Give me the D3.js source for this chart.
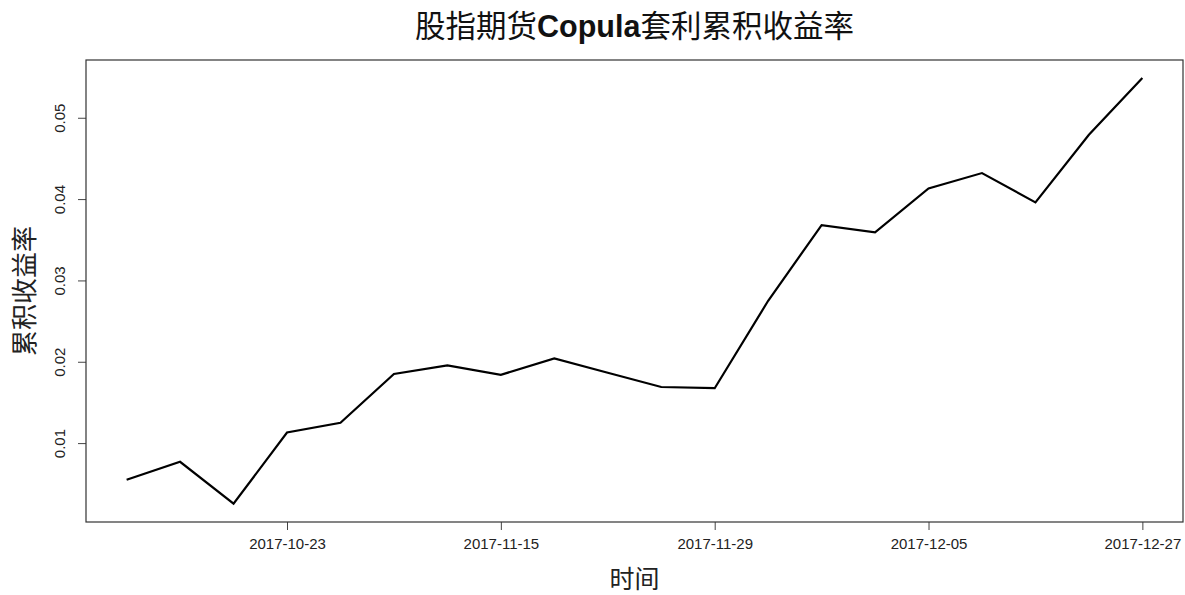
<!DOCTYPE html>
<html>
<head>
<meta charset="utf-8">
<title>股指期货Copula套利累积收益率</title>
<script src="https://d3js.org/d3.v7.min.js"></script>
<style>
body { margin: 0; background: #fff; }
svg { display: block; }
text { font-family: "Liberation Sans", Arial, "Noto Sans CJK SC", sans-serif; }
.cjk { font-family: "Noto Sans CJK SC", "Liberation Sans", sans-serif; }
</style>
</head>
<body>
<svg id="chart" width="1185" height="595"></svg>
<script>
// trading day index (x) and cumulative return (y)
var days = [1, 2, 3, 4, 5, 6, 7, 8, 9, 10, 11, 12, 13, 14, 15, 16, 17, 18, 19, 20];
var cumReturn = [0.0055, 0.0077, 0.00255, 0.0113, 0.0125, 0.0185, 0.01955, 0.0184, 0.0204, 0.01865,
                 0.0169, 0.01675, 0.0275, 0.0368, 0.0359, 0.0413, 0.0432, 0.0396, 0.0479, 0.0549];
// labelled x ticks
var xTickPos = [4, 8, 12, 16, 20];
var xTickLabels = ['2017-10-23', '2017-11-15', '2017-11-29', '2017-12-05', '2017-12-27'];
var yTicks = [0.01, 0.02, 0.03, 0.04, 0.05];

// plot box edges (window.top is read only, so no plain "top")
var boxL = 86, boxR = 1183, boxT = 60, boxB = 522;
var svg = d3.select('#chart');

// R style: range of data plus 4% each side
var xs = d3.scaleLinear().domain([0.24, 20.76]).range([boxL, boxR]);
var ys = d3.scaleLinear().domain([0.0003, 0.0571]).range([boxB, boxT]);

// line
var line = d3.line()
  .x(function(d, i) { return xs(days[i]); })
  .y(function(d) { return ys(d); });

svg.append('path')
  .datum(cumReturn)
  .attr('d', line)
  .attr('fill', 'none')
  .attr('stroke', '#000')
  .attr('stroke-width', 2.2)
  .attr('stroke-linejoin', 'miter');

// x axis
var xAxis = svg.append('g')
  .attr('transform', 'translate(0,' + boxB + ')')
  .call(d3.axisBottom(xs)
    .tickValues(xTickPos)
    .tickSize(8)
    .tickPadding(8)
    .tickFormat(function(d, i) { return xTickLabels[i]; }));
xAxis.select('.domain').remove();
xAxis.selectAll('line').attr('stroke', '#444');
xAxis.selectAll('text')
  .attr('font-size', '15px')
  .attr('font-family', '"Liberation Sans", Arial, sans-serif')
  .attr('fill', '#222');

// y axis, labels rotated like base R
var yAxis = svg.append('g')
  .attr('transform', 'translate(' + boxL + ',0)')
  .call(d3.axisLeft(ys)
    .tickValues(yTicks)
    .tickSize(8)
    .tickFormat(d3.format('.2f')));
yAxis.select('.domain').remove();
yAxis.selectAll('line').attr('stroke', '#444');
yAxis.selectAll('text')
  .attr('transform', 'rotate(-90)')
  .attr('x', 0)
  .attr('y', -21)
  .attr('dy', 0)
  .attr('text-anchor', 'middle')
  .attr('font-size', '15px')
  .attr('font-family', '"Liberation Sans", Arial, sans-serif')
  .attr('fill', '#222');

// plot box
svg.append('rect')
  .attr('x', boxL)
  .attr('y', boxT)
  .attr('width', boxR - boxL)
  .attr('height', boxB - boxT)
  .attr('fill', 'none')
  .attr('stroke', '#333')
  .attr('stroke-width', 1.2);

// title
var title = svg.append('text')
  .attr('x', (boxL + boxR) / 2)
  .attr('y', 37)
  .attr('text-anchor', 'middle')
  .attr('font-size', '30.5px')
  .attr('fill', '#111');
title.append('tspan').attr('class', 'cjk').text('股指期货');
title.append('tspan').attr('font-weight', 'bold').text('Copula');
title.append('tspan').attr('class', 'cjk').text('套利累积收益率');

// axis titles
svg.append('text')
  .attr('class', 'cjk')
  .attr('x', (boxL + boxR) / 2)
  .attr('y', 588)
  .attr('text-anchor', 'middle')
  .attr('font-size', '25px')
  .attr('fill', '#222')
  .text('时间');

svg.append('text')
  .attr('class', 'cjk')
  .attr('transform', 'translate(22,' + (boxT + boxB) / 2 + ') rotate(-90)')
  .attr('dominant-baseline', 'central')
  .attr('text-anchor', 'middle')
  .attr('font-size', '26px')
  .attr('fill', '#222')
  .text('累积收益率');
</script>
</body>
</html>
